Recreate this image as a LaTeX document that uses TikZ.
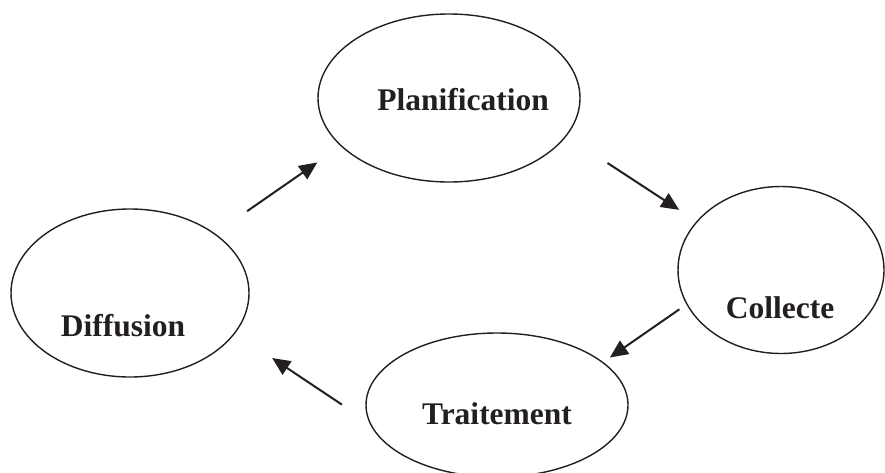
\documentclass[tikz,border=0pt]{standalone}
\usepackage{fontspec}
\setmainfont{Liberation Serif}
\usetikzlibrary{arrows.meta,shapes.geometric}
\definecolor{ink}{HTML}{231F20}
\begin{document}
\begin{tikzpicture}[x=1pt,y=-1pt,
  phase/.style={ellipse, draw=ink, line width=1.4pt, inner sep=0pt},
  phasetext/.style={anchor=base, text=ink, font=\fontsize{31.5}{36}\selectfont\bfseries, inner sep=0pt},
  flow/.style={draw=ink, line width=2pt, -{Triangle[length=18pt,width=16pt]}}]
\useasboundingbox (0,0) rectangle (885,472);
% the four stages of the cycle
\node[phase, minimum width=262pt, minimum height=168pt] (plan) at (449,98) {};
\node[phase, minimum width=206pt, minimum height=167pt] (coll) at (781,270) {};
\node[phase, minimum width=262pt, minimum height=144pt] (trait) at (497,405) {};
\node[phase, minimum width=238pt, minimum height=168pt] (diff) at (130,293) {};
% stage names
\node[phasetext] (tplan) at (463,110) {Planification};
\node[phasetext] (tcoll) at (780,318) {Collecte};
\node[phasetext] (ttrait) at (497,424) {Traitement};
\node[phasetext] (tdiff) at (123,336) {Diffusion};
% arrows between the stages
\draw[flow, shorten <=39pt, shorten >=28.5pt] (diff.35) -- (plan.204.7);
\draw[flow, shorten <=49pt, shorten >=20.7pt] (plan.342) -- (coll.150.7);
\draw[flow, shorten <=8.5pt, shorten >=8pt] (coll.200) -- (trait.22.7);
\draw[flow, shorten <=33pt, shorten >=44.4pt] (trait.188.3) -- (diff.339.6);
\end{tikzpicture}
\end{document}
